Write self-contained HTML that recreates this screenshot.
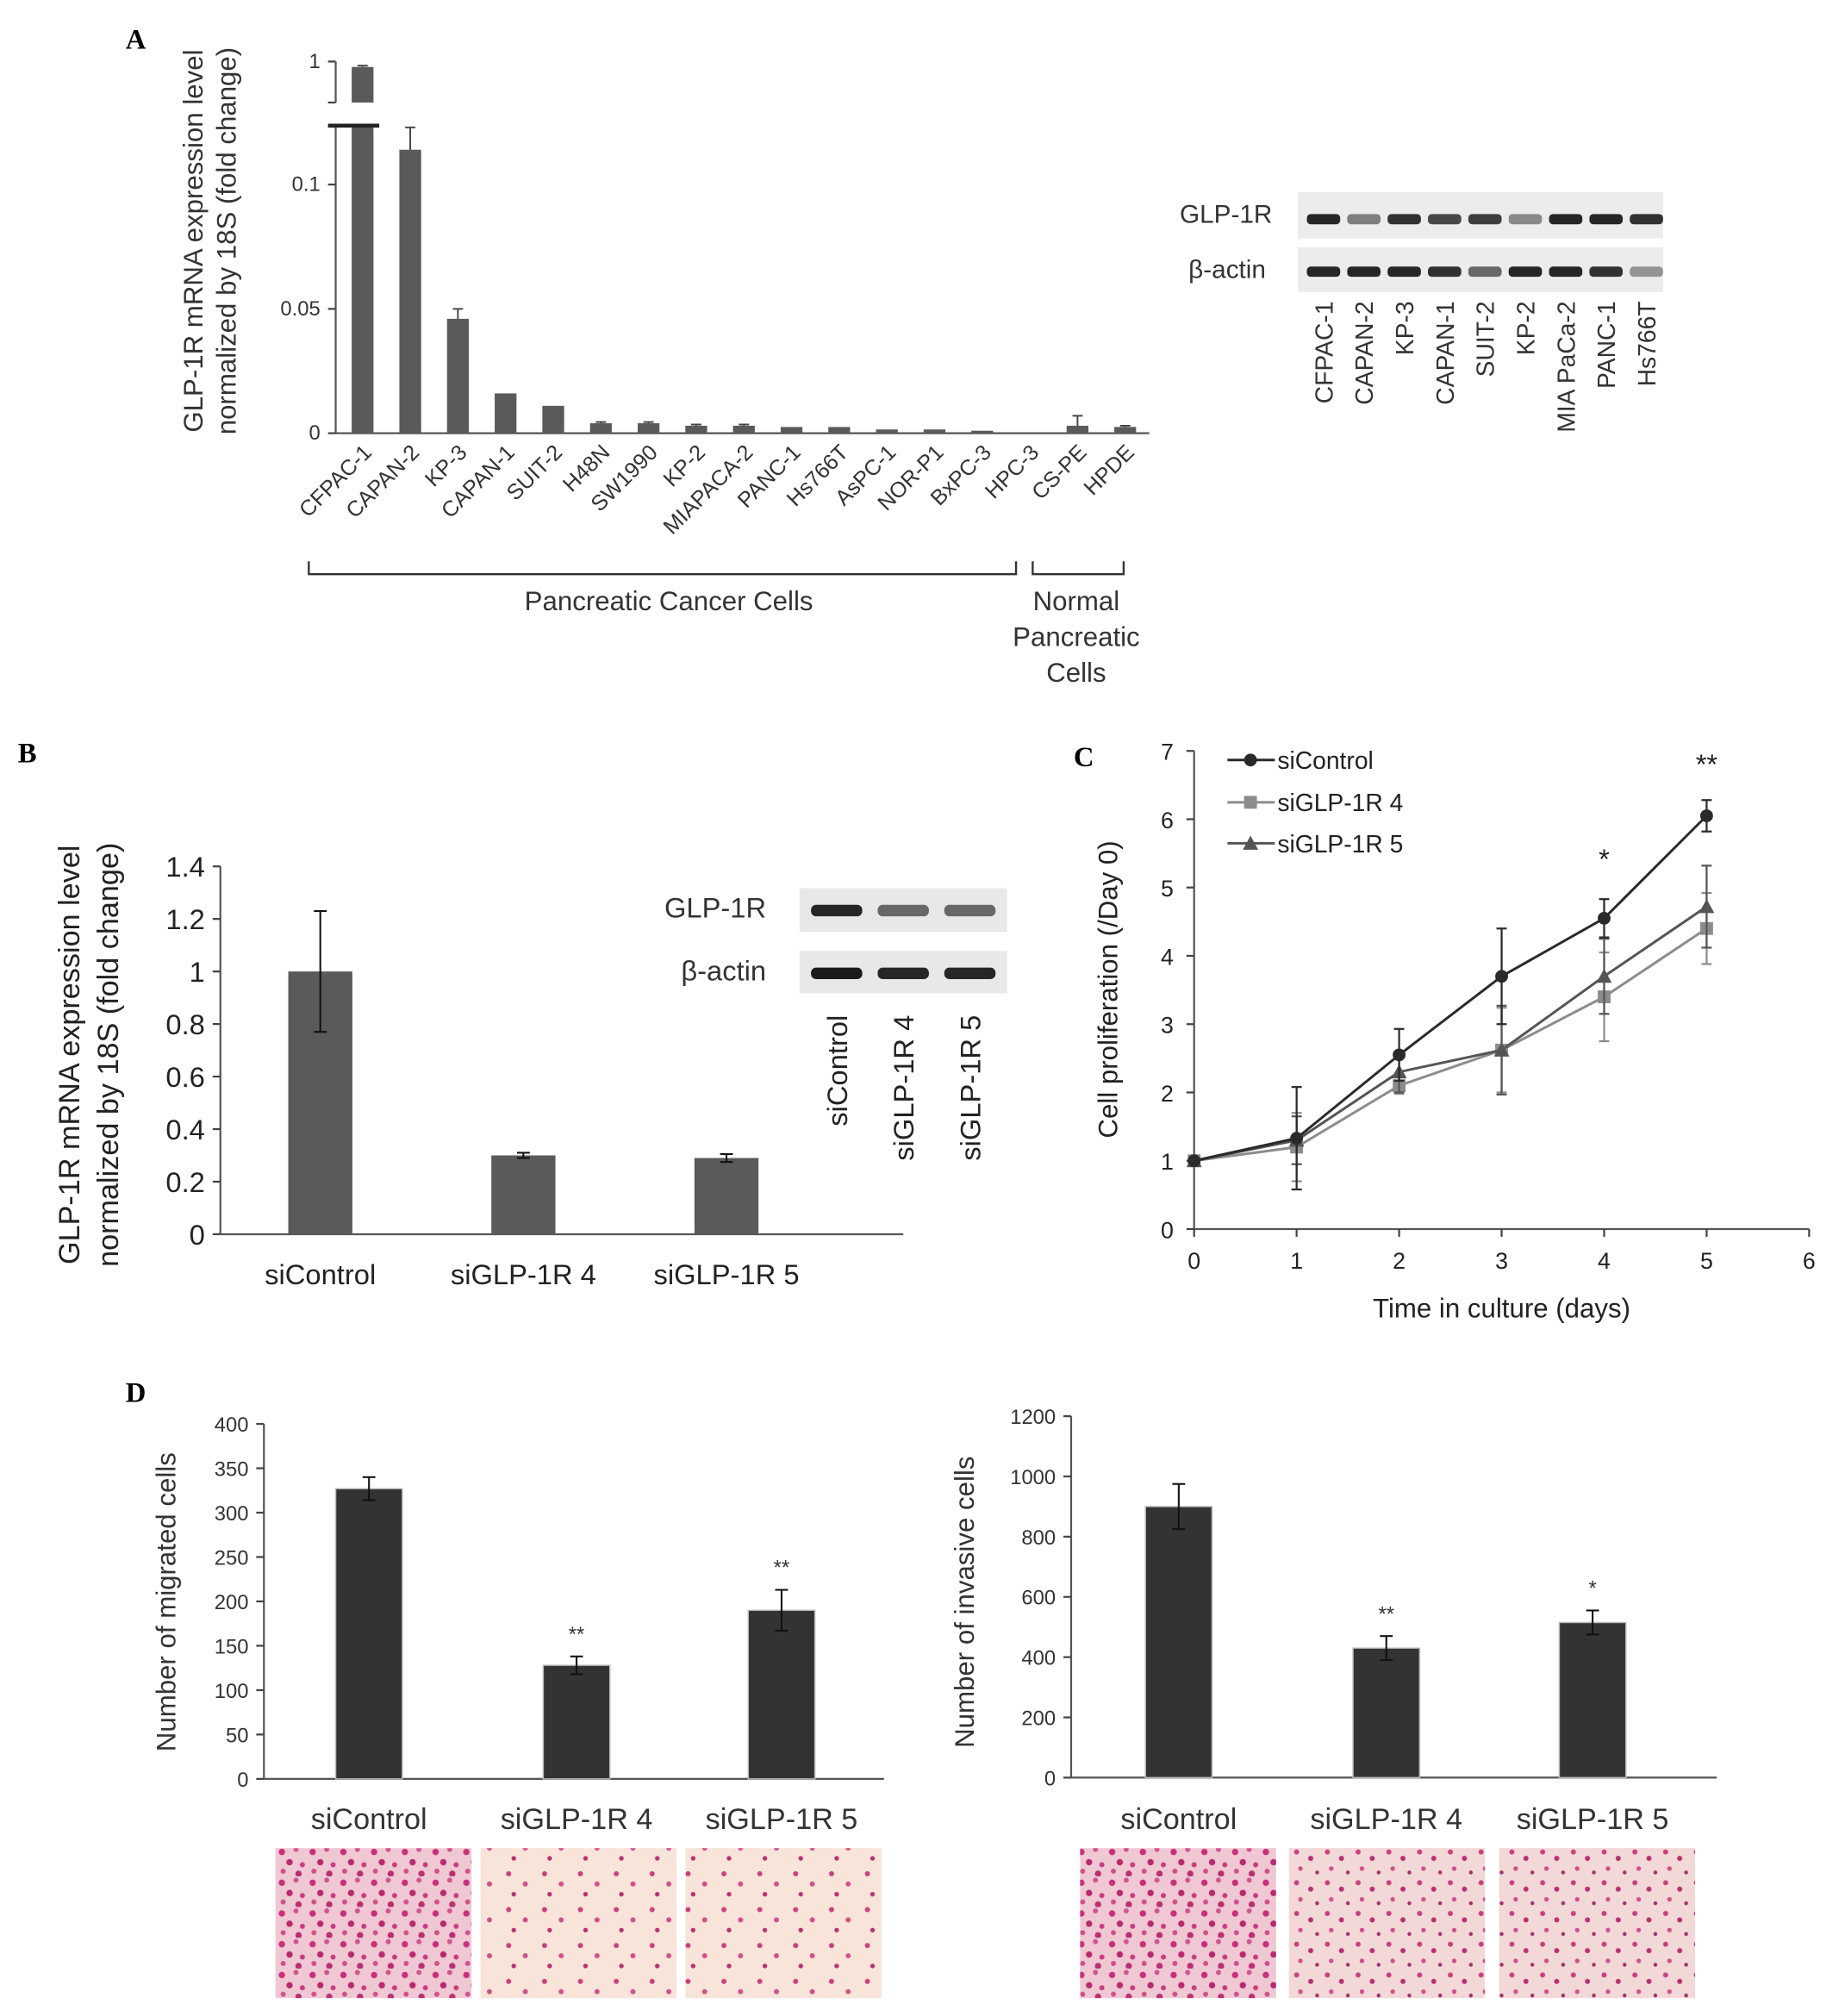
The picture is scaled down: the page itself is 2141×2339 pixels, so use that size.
<!DOCTYPE html>
<html><head><meta charset="utf-8"><style>
html,body{margin:0;padding:0;background:#fff;}
svg{display:block;font-family:"Liberation Sans",Arial,sans-serif;}
.pl{font-family:"Liberation Serif",serif;font-weight:bold;font-size:22px;}
</style></head><body>
<svg id="fig" width="2141" height="2339" viewBox="0 0 1440 1573" preserveAspectRatio="none" xmlns="http://www.w3.org/2000/svg">
<defs>
<pattern id="pd" width="24" height="24" patternUnits="userSpaceOnUse"><rect width="24" height="24" fill="#f0c8d4"/><circle cx="4" cy="5" r="2.5" fill="#c8307a"/><circle cx="15" cy="3" r="2" fill="#d05590"/><circle cx="10" cy="13" r="2.5" fill="#b82a6e"/><circle cx="20" cy="15" r="2" fill="#c83c80"/><circle cx="5" cy="20" r="2" fill="#d0508c"/><circle cx="17" cy="22" r="2.5" fill="#b83070"/></pattern>
<pattern id="ps" width="28" height="28" patternUnits="userSpaceOnUse"><rect width="28" height="28" fill="#f8e4d8"/><circle cx="5" cy="6" r="2" fill="#c8407e"/><circle cx="18" cy="14" r="2" fill="#d0508c"/><circle cx="9" cy="22" r="1.8" fill="#b83070"/></pattern>
<pattern id="pm" width="24" height="24" patternUnits="userSpaceOnUse"><rect width="24" height="24" fill="#f3d8d8"/><circle cx="4" cy="5" r="2" fill="#c8407e"/><circle cx="15" cy="10" r="2" fill="#b83070"/><circle cx="7" cy="18" r="1.8" fill="#d0508c"/><circle cx="20" cy="21" r="1.5" fill="#a0306a"/></pattern>
</defs>
<text class="pl" x="98" y="38">A</text>
<text class="pl" x="14" y="595">B</text>
<text class="pl" x="838" y="598">C</text>
<text class="pl" x="98" y="1094">D</text>
<g id="gA"></g>
<g id="gB"></g>
<g id="gC"></g>
<g id="gD"></g>
</svg>
<script>
// ---- Panel A data
const aCats=["CFPAC-1","CAPAN-2","KP-3","CAPAN-1","SUIT-2","H48N","SW1990","KP-2","MIAPACA-2","PANC-1","Hs766T","AsPC-1","NOR-P1","BxPC-3","HPC-3","CS-PE","HPDE"];
const aVals=[0.98,0.114,0.046,0.016,0.011,0.004,0.004,0.003,0.003,0.0025,0.0025,0.0015,0.0015,0.001,0,0.003,0.0025];
const aErr=[0.005,0.009,0.004,0,0,0.0005,0.0005,0.0005,0.0005,0,0,0,0,0,0,0.004,0.0005];
const aTicks=[0,0.05,0.1];
const aBlotLanes=["CFPAC-1","CAPAN-2","KP-3","CAPAN-1","SUIT-2","KP-2","MIA PaCa-2","PANC-1","Hs766T"];
const aBlotGlp=[0.9,0.5,0.85,0.75,0.8,0.45,0.9,0.9,0.85];
const aBlotAct=[0.9,0.9,0.9,0.85,0.6,0.9,0.9,0.85,0.4];
// ---- Panel B data
const bCats=["siControl","siGLP-1R 4","siGLP-1R 5"];
const bVals=[1.0,0.30,0.29];
const bErr=[0.23,0.01,0.015];
const bTicks=[0,0.2,0.4,0.6,0.8,1,1.2,1.4];
const bBlotGlp=[0.9,0.6,0.6];
const bBlotAct=[0.95,0.9,0.9];
// ---- Panel C data
const cDays=[0,1,2,3,4,5];
const cCtrl=[1,1.33,2.55,3.7,4.55,6.05];
const cCtrlErr=[0,0.75,0.38,0.7,0.28,0.23];
const cSi4=[1,1.2,2.1,2.62,3.4,4.4];
const cSi4Err=[0,0.5,0.12,0.62,0.65,0.52];
const cSi5=[1,1.3,2.3,2.62,3.7,4.72];
const cSi5Err=[0,0.35,0.3,0.65,0.55,0.6];
const cYTicks=[0,1,2,3,4,5,6,7];
const cXTicks=[0,1,2,3,4,5,6];
// ---- Panel D data
const dCats=["siControl","siGLP-1R 4","siGLP-1R 5"];
const dMig=[327,128,190];
const dMigErr=[13,10,23];
const dMigStars=["","**","**"];
const dMigTicks=[0,50,100,150,200,250,300,350,400];
const dInv=[900,430,515];
const dInvErr=[75,40,40];
const dInvStars=["","**","*"];
const dInvTicks=[0,200,400,600,800,1000,1200];

const NS="http://www.w3.org/2000/svg";
function mk(p,t,a,txt){const e=document.createElementNS(NS,t);for(const k in a)e.setAttribute(k,a[k]);if(txt!==undefined)e.textContent=txt;p.appendChild(e);return e;}
function ln(p,x1,y1,x2,y2,c,w){return mk(p,"line",{x1,y1,x2,y2,stroke:c||"#444","stroke-width":w||1.5});}

// ===== Panel A
(function(){
 const g=document.getElementById("gA");
 const x0=262,x1=897,y0=338,ppu=1940;
 const BRK=0.5;
 const yA=v=>v<=BRK?Math.max(98,y0-v*ppu):80-(v-0.85)/(0.15)*32;
 const xA=i=>283+i*37.2;
 let e=mk(g,"text",{x:0,y:0,"font-size":21,fill:"#333","text-anchor":"middle",transform:"translate(158,188) rotate(-90)"},"GLP-1R mRNA expression level");
 
 e=mk(g,"text",{x:0,y:0,"font-size":21,fill:"#333","text-anchor":"middle",transform:"translate(184,188) rotate(-90)"},"normalized by 18S (fold change)");
 
 ln(g,262,98,262,y0,"#555",1.5);ln(g,262,48,262,80,"#555",1.5);
 aTicks.forEach(t=>{const y=y0-t*ppu;ln(g,256,y,262,y);const tx=mk(g,"text",{x:250,y:y+5,"font-size":16,fill:"#333","text-anchor":"end"},String(t));
  });
 mk(g,"text",{x:250,y:53,"font-size":16,fill:"#333","text-anchor":"end"},"1");
 ln(g,256,80,262,80);ln(g,256,48,262,48);
 ln(g,x0,y0,x1,y0,"#555",1.5);
 aCats.forEach((c,i)=>{
  const x=xA(i),v=aVals[i];
  if(v>0){
   if(v>BRK){const top=yA(v);
    let r=mk(g,"rect",{x:x-8.5,y:top,width:17,height:80-top,fill:"#5a5a5a"});
    r=mk(g,"rect",{x:x-8.5,y:98,width:17,height:y0-98,fill:"#5a5a5a"});
    const et=yA(v+aErr[i]);ln(g,x,top,x,et,"#444",1.3);ln(g,x-4,et,x+4,et,"#444",1.3);
   } else {const top=y0-v*ppu;
    const r=mk(g,"rect",{x:x-8.5,y:top,width:17,height:y0-top,fill:"#5a5a5a"});
    if(aErr[i]>0){const et=y0-(v+aErr[i])*ppu;ln(g,x,top,x,et,"#444",1.3);ln(g,x-4,et,x+4,et,"#444",1.3);}}
  }
  const t=mk(g,"text",{x:0,y:0,"font-size":17,fill:"#333","text-anchor":"end",transform:`translate(${x+8},${y0+16}) rotate(-45)`},c);
  
 });
 ln(g,256,98,296,98,"#222",3);
 const br=mk(g,"path",{d:"M241,438 V448 H793 V438 M806,438 V448 H877 V438",fill:"none",stroke:"#333","stroke-width":1.6});
 
 e=mk(g,"text",{x:522,y:476,"font-size":21,fill:"#333","text-anchor":"middle"},"Pancreatic Cancer Cells");
 ["Normal","Pancreatic","Cells"].forEach((s,i)=>{const t=mk(g,"text",{x:840,y:476+i*28,"font-size":21,fill:"#333","text-anchor":"middle"},s);});
 e=mk(g,"text",{x:993,y:174,"font-size":20,fill:"#333","text-anchor":"end"},"GLP-1R");
 e=mk(g,"text",{x:988,y:217,"font-size":20,fill:"#333","text-anchor":"end"},"β-actin");
 mk(g,"rect",{x:1013,y:150,width:285,height:36,fill:"#ececec"});
 mk(g,"rect",{x:1013,y:193,width:285,height:35,fill:"#ececec"});
 aBlotLanes.forEach((l,i)=>{const cx=1033+i*31.5;
  let b=mk(g,"rect",{x:cx-13,y:167,width:26,height:8,rx:3,fill:"#111","fill-opacity":aBlotGlp[i]});
  b=mk(g,"rect",{x:cx-13,y:208,width:26,height:8,rx:3,fill:"#111","fill-opacity":aBlotAct[i]});
  const t=mk(g,"text",{x:0,y:0,"font-size":19,fill:"#333","text-anchor":"end",transform:`translate(${cx+7},235) rotate(-90)`},l);});
})();

// ===== Panel B
(function(){
 const g=document.getElementById("gB");
 const x0=172,y0=963,ppu=205;
 const yB=v=>y0-v*ppu, xB=i=>250+i*158.5;
 let e=mk(g,"text",{x:0,y:0,"font-size":23,fill:"#222","text-anchor":"middle",transform:"translate(62,823) rotate(-90)"},"GLP-1R mRNA expression level");
 e=mk(g,"text",{x:0,y:0,"font-size":23,fill:"#222","text-anchor":"middle",transform:"translate(92,823) rotate(-90)"},"normalized by 18S (fold change)");
 ln(g,x0,yB(1.4),x0,y0,"#555",1.5);ln(g,x0,y0,705,y0,"#555",1.5);
 bTicks.forEach(t=>{const y=yB(t);ln(g,166,y,x0,y);const tx=mk(g,"text",{x:160,y:y+8,"font-size":22,fill:"#222","text-anchor":"end"},String(t));});
 bCats.forEach((c,i)=>{const x=xB(i),top=yB(bVals[i]);
  const r=mk(g,"rect",{x:x-25,y:top,width:50,height:y0-top,fill:"#5a5a5a"});
  const a=yB(bVals[i]+bErr[i]),b=yB(bVals[i]-bErr[i]);ln(g,x,a,x,b,"#111",1.4);ln(g,x-5,a,x+5,a,"#111",1.4);ln(g,x-5,b,x+5,b,"#111",1.4);
  const t=mk(g,"text",{x:x,y:1002,"font-size":22,fill:"#222","text-anchor":"middle"},c);});
 e=mk(g,"text",{x:598,y:716,"font-size":22,fill:"#333","text-anchor":"end"},"GLP-1R");
 e=mk(g,"text",{x:598,y:765,"font-size":22,fill:"#333","text-anchor":"end"},"β-actin");
 mk(g,"rect",{x:624,y:693,width:162,height:34,fill:"#e8e8e8"});mk(g,"rect",{x:624,y:742,width:162,height:33,fill:"#e8e8e8"});
 bCats.forEach((c,i)=>{const cx=653+i*52;
  let b=mk(g,"rect",{x:cx-20,y:706,width:40,height:9,rx:4,fill:"#111","fill-opacity":bBlotGlp[i]});
  b=mk(g,"rect",{x:cx-20,y:755,width:40,height:9,rx:4,fill:"#111","fill-opacity":bBlotAct[i]});
  const t=mk(g,"text",{x:0,y:0,"font-size":22,fill:"#222","text-anchor":"end",transform:`translate(${cx+8},792) rotate(-90)`},c);});
})();

// ===== Panel C
(function(){
 const g=document.getElementById("gC");
 const xC=d=>932+d*80, yC=v=>959-v*53.3;
 ln(g,932,yC(7),932,959,"#555",1.5);ln(g,932,959,1412,959,"#555",1.5);
 cYTicks.forEach(t=>{const y=yC(t);ln(g,926,y,932,y);const tx=mk(g,"text",{x:916,y:y+7,"font-size":18,fill:"#222","text-anchor":"end"},String(t));});
 cXTicks.forEach(t=>{const x=xC(t);ln(g,x,959,x,965);const tx=mk(g,"text",{x:x,y:990,"font-size":18,fill:"#222","text-anchor":"middle"},String(t));});
 let e=mk(g,"text",{x:1172,y:1028,"font-size":21,fill:"#222","text-anchor":"middle"},"Time in culture (days)");
 e=mk(g,"text",{x:0,y:0,"font-size":21,fill:"#222","text-anchor":"middle",transform:"translate(872,772) rotate(-90)"},"Cell proliferation (/Day 0)");
 const series=[[cSi4,cSi4Err,"#8c8c8c","sq","siGLP-1R 4"],[cSi5,cSi5Err,"#555","tri","siGLP-1R 5"],[cCtrl,cCtrlErr,"#2a2a2a","dot","siControl"]];
 function marker(p,x,y,type,col){if(type=="dot")return mk(p,"circle",{cx:x,cy:y,r:5,fill:col});if(type=="sq")return mk(p,"rect",{x:x-5,y:y-5,width:10,height:10,fill:col});return mk(p,"polygon",{points:`${x},${y-6} ${x-6},${y+5} ${x+6},${y+5}`,fill:col});}
 series.forEach(([vals,errs,col,mt,name])=>{
  const pl=mk(g,"polyline",{points:vals.map((v,i)=>xC(cDays[i])+","+yC(v)).join(" "),fill:"none",stroke:col,"stroke-width":2});
  
  vals.forEach((v,i)=>{const x=xC(cDays[i]);if(errs[i]>0){const a=yC(v+errs[i]),b=yC(v-errs[i]);ln(g,x,a,x,b,col,1.5);ln(g,x-4,a,x+4,a,col,1.5);ln(g,x-4,b,x+4,b,col,1.5);}
   const m=marker(g,x,yC(v),mt,col);});
 });
 [["siControl","#2a2a2a","dot",593],["siGLP-1R 4","#8c8c8c","sq",626],["siGLP-1R 5","#555","tri",658]].forEach(([n,c,m,y])=>{
  ln(g,958,y,995,y,c,2);marker(g,976,y,m,c);const t=mk(g,"text",{x:997,y:y+7,"font-size":19,fill:"#222"},n);});
 e=mk(g,"text",{x:xC(4),y:678,"font-size":22,fill:"#222","text-anchor":"middle"},"*");
 e=mk(g,"text",{x:xC(5),y:604,"font-size":22,fill:"#222","text-anchor":"middle"},"**");
})();

// ===== Panel D
(function(){
 const g=document.getElementById("gD");
 function bar(ax,x0,xEnd,y0,ppu,ticks,vals,errs,stars,title,centers,pats,imgX,tickX){
  const y=v=>y0-v*ppu;
  ln(g,x0,y(ticks[ticks.length-1]),x0,y0,"#555",1.5);ln(g,x0,y0,xEnd,y0,"#555",1.5);
  ticks.forEach(t=>{const yy=y(t);ln(g,x0-6,yy,x0,yy);const tx=mk(g,"text",{x:x0-12,y:yy+6,"font-size":16,fill:"#333","text-anchor":"end"},String(t));});
  let e=mk(g,"text",{x:0,y:0,"font-size":21,fill:"#333","text-anchor":"middle",transform:`translate(${tickX},1250) rotate(-90)`},title);
  dCats.forEach((c,i)=>{const x=centers[i],top=y(vals[i]);
   const r=mk(g,"rect",{x:x-26,y:top,width:52,height:y0-top,fill:"#333",stroke:"#bbb","stroke-width":1});
   const a=y(vals[i]+errs[i]),b=y(vals[i]-errs[i]);ln(g,x,a,x,b,"#111",1.4);ln(g,x-5,a,x+5,a,"#111",1.4);ln(g,x-5,b,x+5,b,"#111",1.4);
   if(stars[i]){const s=mk(g,"text",{x:x,y:a-12,"font-size":16,fill:"#333","text-anchor":"middle"},stars[i]);}
   const t=mk(g,"text",{x:x,y:1427,"font-size":23,fill:"#333","text-anchor":"middle"},c);
   const im=mk(g,"rect",{x:imgX[i],y:1442,width:153,height:117,fill:`url(#${pats[i]})`});
  });
 }
 bar("d-mig",206,690,1388,0.6925,dMigTicks,dMig,dMigErr,dMigStars,"Number of migrated cells",[288,450,610],["pd","ps","ps"],[215,375,535],137);
 bar("d-inv",836,1340,1387,0.235,dInvTicks,dInv,dInvErr,dInvStars,"Number of invasive cells",[920,1082,1243],["pd","pm","pm"],[843,1006,1170],760);
})();
</script>
</body></html>
